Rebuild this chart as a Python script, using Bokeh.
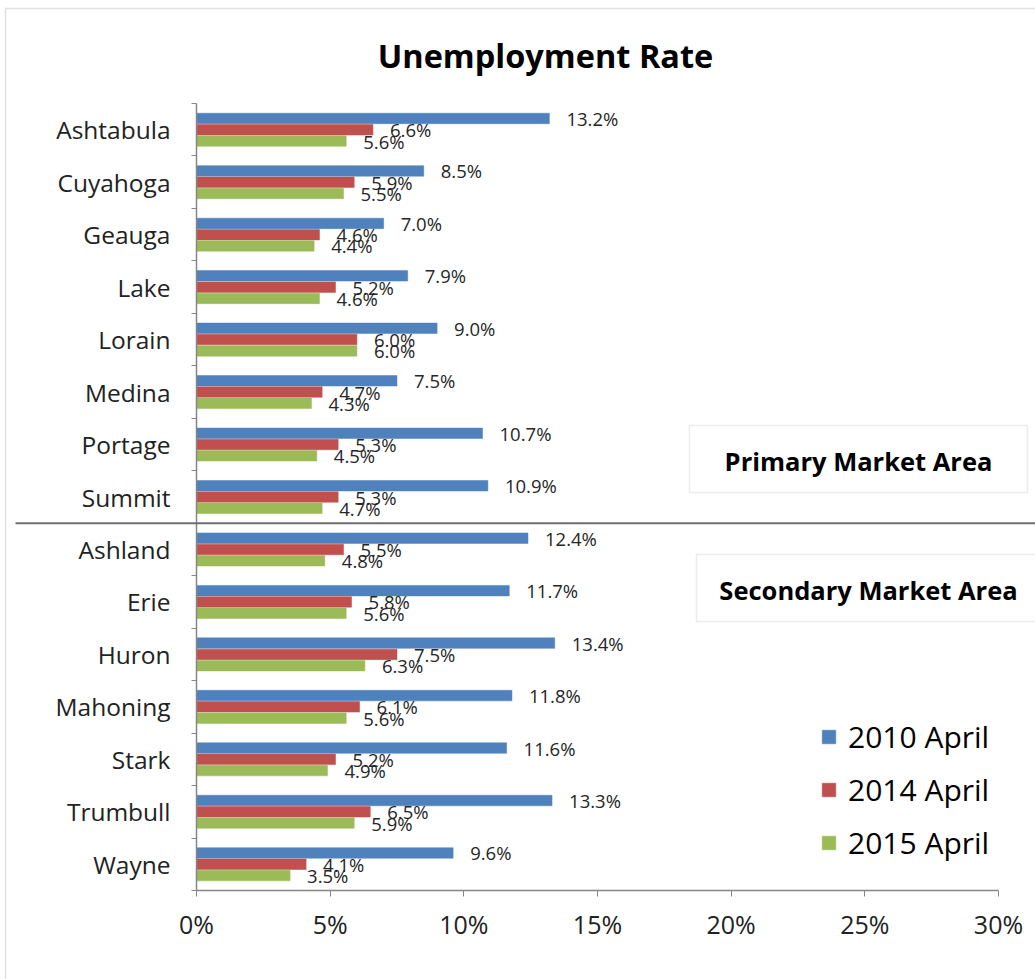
from bokeh.plotting import figure
from bokeh.models import (Range1d, FixedTicker, BoxAnnotation, Label, Legend, LegendItem,
                          ColumnDataSource, NumeralTickFormatter)
from bokeh.transform import dodge
from bokeh.embed import file_html
from bokeh.resources import INLINE
from bokeh.core.properties import value

counties = ["Ashtabula", "Cuyahoga", "Geauga", "Lake", "Lorain", "Medina", "Portage", "Summit",
            "Ashland", "Erie", "Huron", "Mahoning", "Stark", "Trumbull", "Wayne"]
primary_count = 8   # first 8 counties form the Primary Market Area
apr2010 = [13.2, 8.5, 7.0, 7.9, 9.0, 7.5, 10.7, 10.9, 12.4, 11.7, 13.4, 11.8, 11.6, 13.3, 9.6]
apr2014 = [6.6, 5.9, 4.6, 5.2, 6.0, 4.7, 5.3, 5.3, 5.5, 5.8, 7.5, 6.1, 5.2, 6.5, 4.1]
apr2015 = [5.6, 5.5, 4.4, 4.6, 6.0, 4.3, 4.5, 4.7, 4.8, 5.6, 6.3, 5.6, 4.9, 5.9, 3.5]
series_names = ["2010 April", "2014 April", "2015 April"]
x_ticks = [0, 0.05, 0.10, 0.15, 0.20, 0.25, 0.30]

colors = ["#4F81BD", "#C0504D", "#9BBB59"]
FONT = "Open Sans"

W, H = 1035, 979
# layout geometry (pixels): where 0% / 30% and the category block sit on the canvas
X0, X30 = 196, 998
Y_TOP, Y_BOT = 103, 890
n = len(counties)
ppx = (X30 - X0) / 0.30          # pixels per unit fraction
ppy = (Y_BOT - Y_TOP) / n        # pixels per category slot


def dx(px):
    return (px - X0) / ppx


def dy(py):
    return -0.5 + (py - Y_TOP) / ppy


pos = list(range(n))
src = ColumnDataSource(dict(
    pos=pos,
    v2010=[v / 100 for v in apr2010],
    v2014=[v / 100 for v in apr2014],
    v2015=[v / 100 for v in apr2015],
    t2010=[f"{v:.1f}%" for v in apr2010],
    t2014=[f"{v:.1f}%" for v in apr2014],
    t2015=[f"{v:.1f}%" for v in apr2015],
))

p = figure(width=W, height=H, output_backend="svg", toolbar_location=None,
           x_range=Range1d(dx(0), dx(W)), y_range=Range1d(dy(H), dy(0)),
           min_border=0)
p.outline_line_color = None
p.xgrid.visible = False
p.ygrid.visible = False
p.background_fill_color = "white"
p.border_fill_color = "white"

# outer border of the chart
p.add_layout(BoxAnnotation(left=dx(5), right=dx(W + 20), top=dy(8), bottom=dy(H + 20),
                           fill_alpha=0, line_color="#9a9a9a", line_width=1.5))

offsets = [-0.215, 0.0, 0.215]
cols = ["v2010", "v2014", "v2015"]
tcols = ["t2010", "t2014", "t2015"]
renderers = []
for c, tc, off, col in zip(cols, tcols, offsets, colors):
    r = p.hbar(y=dodge("pos", off, range=p.y_range), left=0, right=c, height=0.2, source=src,
               fill_color=col, line_color=col, line_width=0.5)
    renderers.append(r)
    p.text(x=c, y=dodge("pos", off, range=p.y_range), text=tc, source=src,
           x_offset=17, text_align="left", text_baseline="middle",
           text_font=value(FONT), text_font_size="18.5px", text_color="#262626")

# axes
ax = p.xaxis[0]
ax.fixed_location = n - 0.5
ax.bounds = (0, 0.30)
ax.ticker = FixedTicker(ticks=x_ticks)
ax.formatter = NumeralTickFormatter(format="0%")
ax.axis_line_color = "#868686"
ax.axis_line_width = 1.5
ax.major_tick_line_color = "#868686"
ax.major_tick_out = 6
ax.major_tick_in = 0
ax.minor_tick_out = 0
ax.minor_tick_in = 0
ax.major_label_standoff = 10
ax.major_label_text_font = FONT
ax.major_label_text_font_size = "25px"
ax.major_label_text_color = "#222222"

ay = p.yaxis[0]
ay.fixed_location = 0
ay.bounds = (-0.5, n - 0.5)
ay.ticker = FixedTicker(ticks=pos, minor_ticks=[i - 0.5 for i in range(n + 1)])
ay.major_label_overrides = {i: name for i, name in zip(pos, counties)}
ay.axis_line_color = "#868686"
ay.axis_line_width = 1.5
ay.major_tick_out = 0
ay.major_tick_in = 0
ay.minor_tick_out = 5
ay.minor_tick_in = 0
ay.minor_tick_line_color = "#868686"
ay.major_label_standoff = 21
ay.major_label_text_font = FONT
ay.major_label_text_font_size = "24.5px"
ay.major_label_text_color = "#222222"

# title
p.add_layout(Label(x=dx(545), y=dy(55), text="Unemployment Rate", text_align="center",
                   text_baseline="middle", text_font=FONT, text_font_style="bold",
                   text_font_size="32.5px", text_color="#000000"))

# separator line between primary and secondary areas
sep = primary_count - 0.5
p.add_layout(BoxAnnotation(left=dx(15), right=dx(W + 20), top=sep - 0.02, bottom=sep + 0.02,
                           fill_color="#6e6e6e", fill_alpha=1, line_alpha=0))

# area boxes
p.add_layout(BoxAnnotation(left=dx(689), right=dx(1027), top=dy(425), bottom=dy(492),
                           fill_color="white", fill_alpha=1, line_color="#c4c4c4", line_width=1.5))
p.add_layout(Label(x=dx(858), y=dy(460), text="Primary Market Area", text_align="center",
                   text_baseline="middle", text_font=FONT, text_font_style="bold",
                   text_font_size="25.5px", text_color="#000000"))
p.add_layout(BoxAnnotation(left=dx(696), right=dx(1040), top=dy(554), bottom=dy(621),
                           fill_color="white", fill_alpha=1, line_color="#c4c4c4", line_width=1.5))
p.add_layout(Label(x=dx(868), y=dy(589), text="Secondary Market Area", text_align="center",
                   text_baseline="middle", text_font=FONT, text_font_style="bold",
                   text_font_size="25.5px", text_color="#000000"))

legend = Legend(items=[LegendItem(label=s, renderers=[r]) for s, r in zip(series_names, renderers)],
                location=(820, 116), border_line_color=None, background_fill_alpha=0,
                glyph_width=17, glyph_height=17, label_height=35, spacing=12, label_standoff=11,
                padding=0, margin=0, label_text_font=FONT, label_text_font_size="30px",
                label_text_color="#000000")
p.add_layout(legend)

open("out.html", "w").write(file_html(p, INLINE))
